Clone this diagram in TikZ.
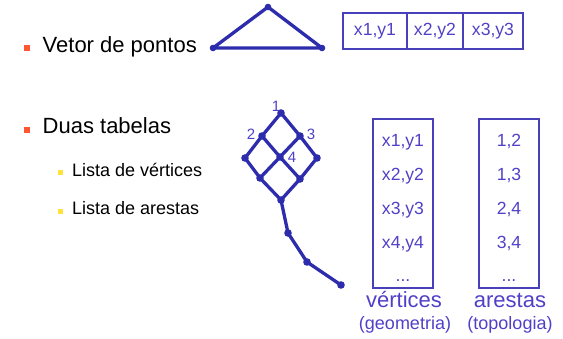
\documentclass[tikz,border=0pt]{standalone}
\usepackage{fontspec}
\setmainfont{Liberation Sans}
\usetikzlibrary{positioning}
\definecolor{linha}{RGB}{44,44,172}
\definecolor{azul}{RGB}{80,64,200}
\definecolor{caixa}{RGB}{72,64,184}
\definecolor{marcaA}{RGB}{255,85,50}
\definecolor{marcaB}{RGB}{255,226,60}
\tikzset{
  grande/.style={font=\fontsize{22}{26}\selectfont},
  medio/.style={font=\fontsize{18}{21}\selectfont},
  cel/.style={draw=caixa,line width=1.2pt,outer sep=0pt,inner sep=0pt,minimum height=36pt,text=azul,font=\fontsize{17.6}{20}\selectfont},
  tabela/.style={draw=caixa,line width=1.2pt,outer sep=0pt,minimum width=60pt,minimum height=169pt,anchor=north west},
  item/.style={text=azul,anchor=base,font=\fontsize{17.6}{20}\selectfont},
  rotulo/.style={text=azul,font=\fontsize{15}{17}\selectfont,inner sep=0pt},
  aresta/.style={linha,line width=3.3pt,line cap=round,line join=round}
}
\begin{document}
\begin{tikzpicture}[x=1pt,y=-1pt]
\useasboundingbox (0,0) rectangle (563,339);
\node[fill=marcaA,minimum size=6pt,inner sep=0pt] (m1) at (27,48.5) {};
\node[grande,anchor=base west,inner sep=0pt] (t1) at (42.5,53) {Vetor de pontos};
\node[fill=marcaA,minimum size=6pt,inner sep=0pt] (m2) at (27,130) {};
\node[grande,anchor=base west,inner sep=0pt] (t2) at (42.5,134) {Duas tabelas};
\node[fill=marcaB,minimum size=5pt,inner sep=0pt] (m3) at (60.5,172.5) {};
\node[anchor=base west,inner sep=0pt,font=\fontsize{18}{21}\selectfont] (t3) at (72,177) {Lista de vértices};
\node[fill=marcaB,minimum size=5pt,inner sep=0pt] (m4) at (60.5,211.5) {};
\node[anchor=base west,inner sep=0pt,font=\fontsize{18}{21}\selectfont] (t4) at (72,215) {Lista de arestas};

\coordinate (p1) at (213,48);
\coordinate (p2) at (268,7);
\coordinate (p3) at (322,48);
\draw[aresta] (p1)--(p2)--(p3)--cycle;
\foreach \p in {p1,p2,p3} \fill[linha] (\p) circle (3.3pt);

\node[cel,minimum width=64pt,anchor=north west] (c1) at (343,13) {x1,y1};
\node[cel,minimum width=56pt,right=0pt of c1] (c2) {x2,y2};
\node[cel,minimum width=60pt,right=0pt of c2] (c3) {x3,y3};

\coordinate (v1) at (281,113);
\coordinate (v2) at (262,136);
\coordinate (v3) at (300,136);
\coordinate (v4) at (280,157);
\coordinate (ve) at (245,158);
\coordinate (vd) at (317,158);
\coordinate (vi) at (260,178);
\coordinate (vj) at (300,179);
\coordinate (vb) at (281,200);
\coordinate (q1) at (288,233);
\coordinate (q2) at (307,262);
\coordinate (q3) at (341,285);
\foreach \a/\b in {v1/v2,v1/v3,v2/ve,v2/v4,v3/v4,v3/vd,ve/vi,v4/vi,v4/vj,vd/vj,vi/vb,vj/vb,vb/q1,q1/q2,q2/q3}
  \draw[aresta] (\a)--(\b);
\foreach \p in {v1,v2,v3,v4,ve,vd,vi,vj,vb,q1,q2,q3} \fill[linha] (\p) circle (3.8pt);
\node[rotulo] (l1) at (276,106) {1};
\node[rotulo] (l2) at (251,134) {2};
\node[rotulo] (l3) at (311,134) {3};
\node[rotulo] (l4) at (292,157) {4};

\node[tabela] (tv) at (373,119) {};
\node[tabela] (ta) at (479,119) {};
\foreach \t [count=\i] in {{x1,y1},{x2,y2},{x3,y3},{x4,y4}}
  \node[item] (tv\i) at (403,{113.3+33.7*\i}) {\t};
\foreach \t [count=\i] in {{1,2},{1,3},{2,4},{3,4}}
  \node[item] (ta\i) at (509,{113.3+33.7*\i}) {\t};
\node[item] (tv5) at (403,282) {...};
\node[item] (ta5) at (509,282) {...};
\node[grande,text=azul,anchor=base] (nv) at (404,308) {vértices};
\node[medio,text=azul,anchor=base] (gv) at (405,330) {(geometria)};
\node[grande,text=azul,anchor=base] (na) at (510,308) {arestas};
\node[medio,text=azul,anchor=base] (ga) at (510,330) {(topologia)};
\end{tikzpicture}
\end{document}
